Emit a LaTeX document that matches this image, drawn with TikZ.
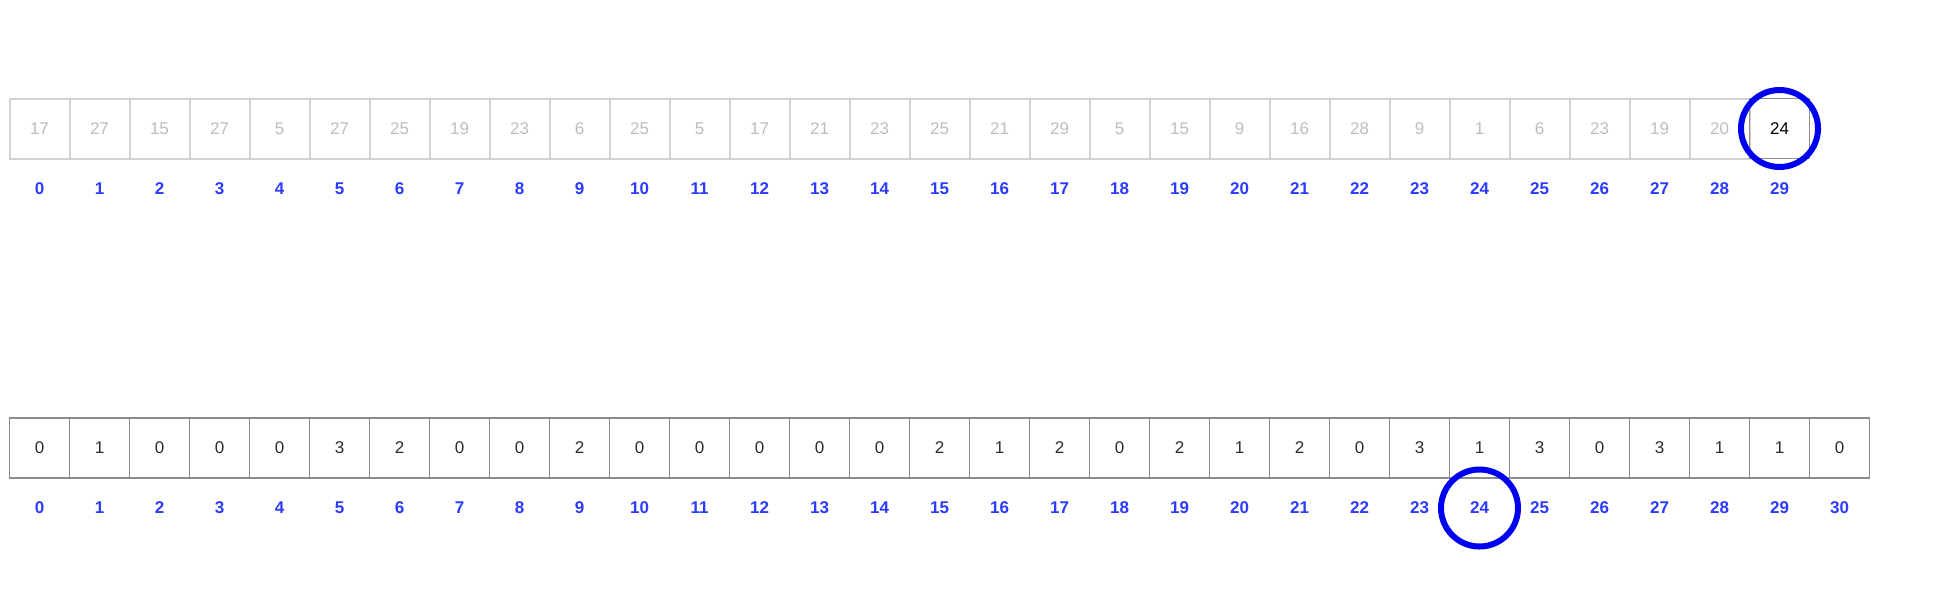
\documentclass[tikz,border=0pt]{standalone}
\usepackage{fontspec}
\setmainfont{Liberation Sans}
\definecolor{lightborder}{HTML}{D2D2D2}
\definecolor{lighttext}{HTML}{BDBDBD}
\definecolor{darkborder}{HTML}{8C8C8C}
\definecolor{celltext}{HTML}{2A2A2A}
\definecolor{idxblue}{HTML}{2B3BFF}
\definecolor{ringblue}{HTML}{0000F0}
\begin{document}
\begin{tikzpicture}[x=1pt,y=-1pt,
  cellbase/.style={minimum width=60pt,minimum height=60pt,inner sep=0pt,outer sep=0pt,font=\fontsize{17}{19}\selectfont},
  fadedcell/.style={cellbase,draw=lightborder,line width=2pt,text=lighttext},
  activecell/.style={cellbase,draw=darkborder,line width=1.3pt,text=celltext},
  idx/.style={inner sep=0pt,font=\fontsize{17}{19}\selectfont\bfseries,text=idxblue},
  ring/.style={circle,draw=ringblue,line width=6pt,minimum size=77pt,inner sep=0pt}]
\useasboundingbox (0,0) rectangle (1934,600);
% top row
\foreach \v [count=\i from 0] in {17,27,15,27,5,27,25,19,23,6,25,5,17,21,23,25,21,29,5,15,9,16,28,9,1,6,23,19,20}{
  \node[fadedcell] (t\i) at ({39.5+60*\i},128.5) {\v};
  \node[idx] (tl\i) at ({39.5+60*\i},189) {\i};
}
\node[activecell,text=black] (t29) at ({39.5+60*29},128.5) {24};
\node[idx] (tl29) at ({39.5+60*29},189) {29};
% bottom row
\foreach \v [count=\i from 0] in {0,1,0,0,0,3,2,0,0,2,0,0,0,0,0,2,1,2,0,2,1,2,0,3,1,3,0,3,1,1,0}{
  \node[activecell] (b\i) at ({39.5+60*\i},448) {\v};
  \node[idx] (bl\i) at ({39.5+60*\i},508) {\i};
}
% highlight rings
\node[ring] (r1) at (t29) {};
\node[ring] (r2) at (bl24) {};
\end{tikzpicture}
\end{document}
